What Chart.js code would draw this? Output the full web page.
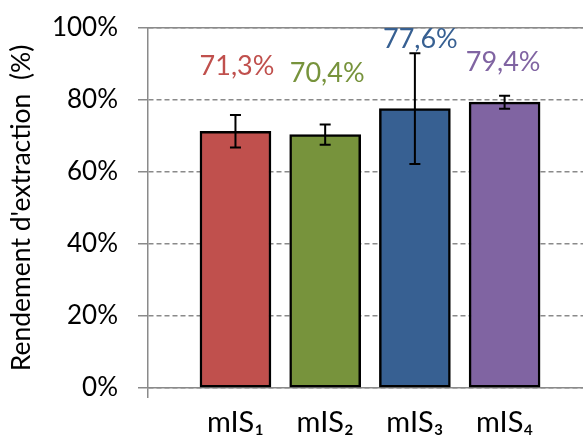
<!DOCTYPE html>
<html>
<head>
<meta charset="utf-8">
<script src="https://cdn.jsdelivr.net/npm/chart.js@4"></script>
<style>
html,body{margin:0;padding:0;background:#fff;}
#wrap{width:583px;height:436px;}
</style>
</head>
<body>
<div id="wrap"><canvas id="c" width="583" height="436"></canvas></div>
<script>
const categories = ['mIS\u2081', 'mIS\u2082', 'mIS\u2083', 'mIS\u2084'];
const values = [71.3, 70.4, 77.6, 79.4];
const errors = [4.5, 2.8, 15.4, 1.8];
const valueLabels = ['71,3%', '70,4%', '77,6%', '79,4%'];
const barColors = ['#C0504D', '#77933C', '#376092', '#8064A2'];
const yTicks = [0, 20, 40, 60, 80, 100];

const FONT = 'Lato, "DejaVu Sans", sans-serif';
const GRAY = '#8a8a8a';
const X_MIN = -0.975, X_MAX = 3.874;

const overlay = {
  id: 'overlay',
  afterDatasetsDraw(chart, args, opts) {
    const ctx = chart.ctx;
    const y = chart.scales.y;
    const meta = chart.getDatasetMeta(0);
    ctx.save();
    ctx.strokeStyle = '#000';
    ctx.lineWidth = 2;
    meta.data.forEach((bar, i) => {
      const top = y.getPixelForValue(values[i] + errors[i]);
      const bot = y.getPixelForValue(values[i] - errors[i]);
      const x = bar.x;
      ctx.beginPath();
      ctx.moveTo(x, top); ctx.lineTo(x, bot);
      ctx.moveTo(x - 5.5, top); ctx.lineTo(x + 5.5, top);
      ctx.moveTo(x - 5.5, bot); ctx.lineTo(x + 5.5, bot);
      ctx.stroke();
    });
    ctx.font = '27px ' + FONT;
    ctx.textAlign = 'center';
    ctx.textBaseline = 'middle';
    meta.data.forEach((bar, i) => {
      ctx.fillStyle = barColors[i];
      ctx.fillText(valueLabels[i], bar.x + opts.dx[i], y.getPixelForValue(opts.labelAt[i]));
    });
    ctx.restore();
  }
};

new Chart(document.getElementById('c'), {
  type: 'bar',
  data: {
    datasets: [{
      data: values.map((v, i) => ({x: i, y: v})),
      backgroundColor: barColors,
      borderColor: '#000',
      borderWidth: 2.5,
      borderSkipped: false,
      barThickness: 71
    }]
  },
  options: {
    responsive: false,
    animation: false,
    layout: {padding: {top: 28, right: 0, left: 0, bottom: 0}},
    plugins: {
      legend: {display: false},
      tooltip: {enabled: false},
      overlay: {labelAt: [89.4, 87.5, 96.9, 90.6], dx: [1.5, 2, 5.5, -1.5]}
    },
    scales: {
      x: {
        type: 'linear',
        offset: false,
        min: X_MIN,
        max: X_MAX,
        afterBuildTicks: s => { s.ticks = [{value: X_MIN}].concat(categories.map((c, i) => ({value: i}))); },
        afterFit: s => { s.height = 48; s.paddingLeft = 0; s.paddingRight = 0; },
        ticks: {
          autoSkip: false, maxRotation: 0, padding: 7,
          font: {family: FONT, size: 29}, color: '#000',
          callback: (v, i) => i === 0 ? '' : categories[v]
        },
        grid: {
          offset: false,
          drawOnChartArea: false, tickLength: 10,
          color: c => c.index === 0 ? GRAY : 'rgba(0,0,0,0)', lineWidth: 1.5
        },
        border: {display: true, color: GRAY, width: 1.5}
      },
      xTop: {
        type: 'linear',
        position: 'top',
        min: 0, max: 1,
        afterFit: s => { s.height = 0; s.paddingLeft = 0; s.paddingRight = 0; },
        ticks: {display: false},
        grid: {display: false},
        border: {display: true, color: GRAY, width: 1.5}
      },
      y: {
        min: 0, max: 100,
        afterBuildTicks: s => { s.ticks = yTicks.map(v => ({value: v})); },
        afterFit: s => { s.width = 148; s.paddingTop = 0; s.paddingBottom = 0; },
        ticks: {
          padding: 20, font: {family: FONT, size: 26}, color: '#000',
          callback: v => v + '%'
        },
        grid: {
          color: GRAY, lineWidth: 1.5, tickLength: 10,
          tickBorderDash: []
        },
        border: {display: true, color: GRAY, width: 1.5, dash: [5, 3]},
        title: {
          display: true, text: "Rendement d'extraction  (%)",
          font: {family: FONT, size: 26.5}, color: '#000',
          padding: {top: 6, bottom: 0}
        }
      }
    }
  },
  plugins: [overlay]
});
</script>
</body>
</html>
